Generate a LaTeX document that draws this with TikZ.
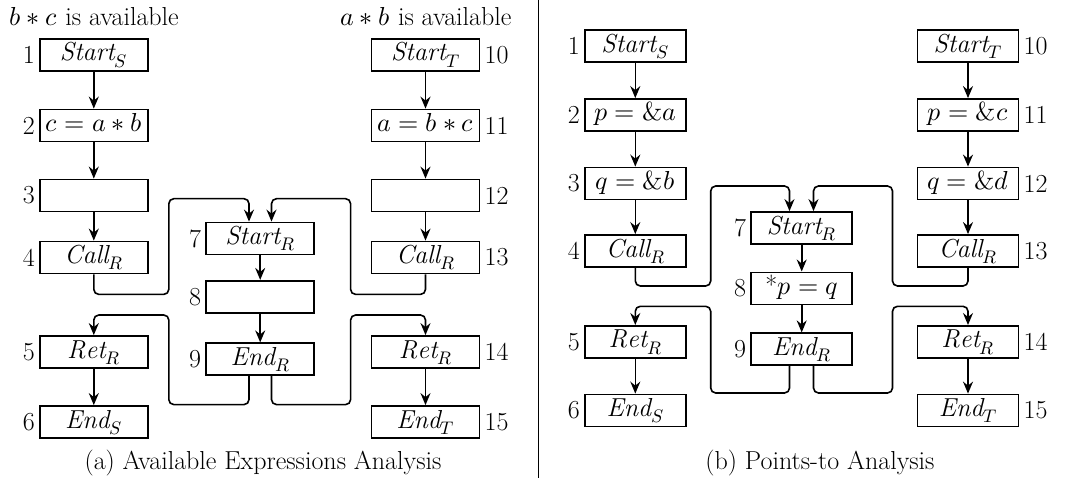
\documentclass[tikz,border=0pt]{standalone}
\usepackage{fontspec}
\usepackage{unicode-math}
\setmathfont{Latin Modern Math}
\usetikzlibrary{arrows.meta}

\begin{document}
\begin{tikzpicture}[x=1pt,y=-1pt,
  txt/.style={font=\fontsize{26}{30}\selectfont},
  box/.style={txt, draw, line width=1.8pt, minimum height=32pt,
    inner sep=0pt, text height=17pt, text depth=5pt},
  boxa/.style={box, minimum width=108pt},
  boxb/.style={box, minimum width=101pt},
  lbl/.style={txt, inner sep=4pt},
  flow/.style={-{Stealth[length=12pt,width=10pt,inset=4pt]},
    line width=1.6pt, rounded corners=5pt}]
\useasboundingbox (0,0) rectangle (1068,481);

% ---------------- (a) Available Expressions Analysis ----------------
\node[txt, anchor=base west] (ta) at (6,25.8) {$b * c$ is available};
\node[txt, anchor=base east] (tb) at (515,25.8) {$a * b$ is available};

\node[boxa, label={[lbl]left:1}] (a1) at (93.8,54.7) {$\mathit{Start}_S$};
\node[boxa, label={[lbl]left:2}] (a2) at (93.8,125.5) {$c = a * b$};
\node[boxa, label={[lbl]left:3}] (a3) at (93.8,195.5) {};
\node[boxa, label={[lbl]left:4}] (a4) at (93.8,257.5) {$\mathit{Call}_R$};
\node[boxa, label={[lbl]left:5}] (a5) at (93.8,352) {$\mathit{Ret}_R$};
\node[boxa, label={[lbl]left:6}] (a6) at (93.8,422) {$\mathit{End}_S$};

\node[boxa, label={[lbl]left:7}] (a7) at (260.2,238.5) {$\mathit{Start}_R$};
\node[boxa, label={[lbl]left:8}] (a8) at (260.2,296.8) {};
\node[boxa, label={[lbl]left:9}] (a9) at (260.2,359.3) {$\mathit{End}_R$};

\node[boxa, label={[lbl]right:10}] (a10) at (425.5,54.7) {$\mathit{Start}_T$};
\node[boxa, label={[lbl]right:11}] (a11) at (425.5,125.5) {$a = b * c$};
\node[boxa, label={[lbl]right:12}] (a12) at (425.5,195.5) {};
\node[boxa, label={[lbl]right:13}] (a13) at (425.5,257.5) {$\mathit{Call}_R$};
\node[boxa, label={[lbl]right:14}] (a14) at (425.5,352) {$\mathit{Ret}_R$};
\node[boxa, label={[lbl]right:15}] (a15) at (425.5,422) {$\mathit{End}_T$};

\foreach \u/\v in {a1/a2,a2/a3,a3/a4,a5/a6,a7/a8,a8/a9,
                   a10/a11,a11/a12,a12/a13,a14/a15}
  \draw[flow] (\u) -- (\v);

% bends of the call and return edges
\coordinate (aCL) at (168.8,294.4);
\coordinate (aCR) at (350.6,294.4);
\coordinate (aTL) at (249,198.7);
\coordinate (aTR) at (271.5,198.7);
\coordinate (aBL) at (168.8,404.6);
\coordinate (aBR) at (350.6,404.6);
\coordinate (aRL) at (93.8,315);
\coordinate (aRR) at (425.5,315);

\draw[flow] (a4.south) |- (aCL) |- (aTL) -- (a7.north -| aTL);
\draw[flow] (a13.south) |- (aCR) |- (aTR) -- (a7.north -| aTR);
\draw[flow] (a9.south -| aTL) |- (aBL) |- (aRL) -- (a5.north);
\draw[flow] (a9.south -| aTR) |- (aBR) |- (aRR) -- (a14.north);

\node[txt, anchor=base] (capa) at (263,469) {(a) Available Expressions Analysis};

% separator
\draw[line width=0.8pt] (538,0) coordinate (s1) -- (538,478) coordinate (s2);

% ---------------- (b) Points-to Analysis ----------------
\node[boxb, label={[lbl]left:1}] (b1) at (635.3,46.3) {$\mathit{Start}_S$};
\node[boxb, label={[lbl]left:2}] (b2) at (635.3,115) {$p = \&a$};
\node[boxb, label={[lbl]left:3}] (b3) at (635.3,183.5) {$q = \&b$};
\node[boxb, label={[lbl]left:4}] (b4) at (635.3,251) {$\mathit{Call}_R$};
\node[boxb, label={[lbl]left:5}] (b5) at (635.3,341.9) {$\mathit{Ret}_R$};
\node[boxb, label={[lbl]left:6}] (b6) at (635.3,410.5) {$\mathit{End}_S$};

\node[boxb, label={[lbl]left:7}] (b7) at (801.7,228) {$\mathit{Start}_R$};
\node[boxb, label={[lbl]left:8}] (b8) at (801.7,288.4) {$\mbox{*}p = q$};
\node[boxb, label={[lbl]left:9}] (b9) at (801.7,349.3) {$\mathit{End}_R$};

\node[boxb, label={[lbl]right:10}] (b10) at (968,46.3) {$\mathit{Start}_T$};
\node[boxb, label={[lbl]right:11}] (b11) at (968,115) {$p = \&c$};
\node[boxb, label={[lbl]right:12}] (b12) at (968,183.5) {$q = \&d$};
\node[boxb, label={[lbl]right:13}] (b13) at (968,251) {$\mathit{Call}_R$};
\node[boxb, label={[lbl]right:14}] (b14) at (968,341.9) {$\mathit{Ret}_R$};
\node[boxb, label={[lbl]right:15}] (b15) at (968,410.5) {$\mathit{End}_T$};

\foreach \u/\v in {b1/b2,b2/b3,b3/b4,b5/b6,b7/b8,b8/b9,
                   b10/b11,b11/b12,b12/b13,b14/b15}
  \draw[flow] (\u) -- (\v);

\coordinate (bCL) at (710.7,286);
\coordinate (bCR) at (892.5,286);
\coordinate (bTL) at (789.5,186);
\coordinate (bTR) at (813.5,186);
\coordinate (bBL) at (710.7,393);
\coordinate (bBR) at (892.5,393);
\coordinate (bRL) at (635.3,306.3);
\coordinate (bRR) at (968,306.3);

\draw[flow] (b4.south) |- (bCL) |- (bTL) -- (b7.north -| bTL);
\draw[flow] (b13.south) |- (bCR) |- (bTR) -- (b7.north -| bTR);
\draw[flow] (b9.south -| bTL) |- (bBL) |- (bRL) -- (b5.north);
\draw[flow] (b9.south -| bTR) |- (bBR) |- (bRR) -- (b14.north);

\node[txt, anchor=base] (capb) at (820,469) {(b) Points-to Analysis};
\end{tikzpicture}
\end{document}
